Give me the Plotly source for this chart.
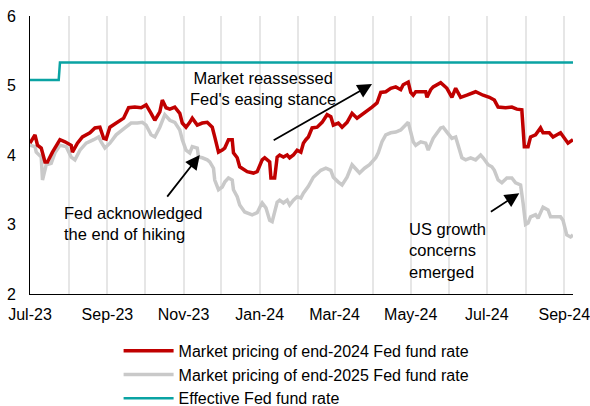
import plotly.graph_objects as go

# ---- data ----
red_dates = [
    "2023-07-01", "2023-07-05", "2023-07-07", "2023-07-10", "2023-07-13", "2023-07-15", "2023-07-19",
    "2023-07-25", "2023-07-29", "2023-08-03", "2023-08-04", "2023-08-08", "2023-08-12", "2023-08-18",
    "2023-08-22", "2023-08-26", "2023-08-29", "2023-08-31", "2023-09-03", "2023-09-08", "2023-09-14",
    "2023-09-18", "2023-09-23", "2023-09-28", "2023-10-02", "2023-10-06", "2023-10-09", "2023-10-13",
    "2023-10-15", "2023-10-18", "2023-10-21", "2023-10-25", "2023-10-29", "2023-10-31", "2023-11-03",
    "2023-11-06", "2023-11-08", "2023-11-12", "2023-11-16", "2023-11-20", "2023-11-24", "2023-11-26",
    "2023-11-29", "2023-12-02", "2023-12-04", "2023-12-07", "2023-12-10", "2023-12-11", "2023-12-14",
    "2023-12-16", "2023-12-22", "2023-12-27", "2023-12-30", "2024-01-03", "2024-01-05", "2024-01-09",
    "2024-01-10", "2024-01-13", "2024-01-15", "2024-01-17", "2024-01-20", "2024-01-23", "2024-01-25",
    "2024-01-28", "2024-01-31", "2024-02-03", "2024-02-05", "2024-02-07", "2024-02-09", "2024-02-12",
    "2024-02-16", "2024-02-20", "2024-02-24", "2024-02-27", "2024-02-29", "2024-03-04", "2024-03-07",
    "2024-03-11", "2024-03-15", "2024-03-19", "2024-03-23", "2024-03-26", "2024-03-31", "2024-04-04",
    "2024-04-07", "2024-04-11", "2024-04-15", "2024-04-19", "2024-04-23", "2024-04-25", "2024-04-29",
    "2024-05-01", "2024-05-03", "2024-05-05", "2024-05-09", "2024-05-13", "2024-05-14", "2024-05-17",
    "2024-05-19", "2024-05-25", "2024-05-30", "2024-06-03", "2024-06-06", "2024-06-10", "2024-06-15",
    "2024-06-22", "2024-06-28", "2024-07-03", "2024-07-07", "2024-07-10", "2024-07-16", "2024-07-21",
    "2024-07-25", "2024-07-29", "2024-07-31", "2024-08-03", "2024-08-05", "2024-08-09", "2024-08-13",
    "2024-08-15", "2024-08-20", "2024-08-23", "2024-08-29", "2024-09-02", "2024-09-04", "2024-09-08",
]
red_values = [
    4.17, 4.29, 4.14, 4.10, 3.90, 3.90, 4.04,
    4.22, 4.19, 4.14, 4.04, 4.17, 4.26, 4.32,
    4.39, 4.40, 4.24, 4.23, 4.40, 4.46, 4.53,
    4.68, 4.69, 4.68, 4.72, 4.60, 4.50, 4.62,
    4.79, 4.68, 4.66, 4.69, 4.60, 4.46, 4.40,
    4.47, 4.53, 4.43, 4.46, 4.47, 4.40, 4.26,
    4.04, 4.07, 4.10, 4.22, 4.22, 4.03, 3.96,
    3.83, 3.76, 3.74, 3.76, 3.93, 3.96, 3.90,
    3.67, 3.67, 3.97, 4.00, 3.97, 4.00, 3.96,
    4.00, 4.07, 4.04, 4.17, 4.22, 4.26, 4.39,
    4.40, 4.47, 4.58, 4.55, 4.43, 4.46, 4.40,
    4.47, 4.60, 4.53, 4.58, 4.62, 4.69, 4.75,
    4.90, 4.91, 4.96, 4.98, 4.94, 5.01, 5.05,
    4.90, 4.86, 4.91, 4.91, 4.91, 4.83, 4.94,
    4.98, 5.04, 4.96, 4.83, 4.96, 4.83, 4.86,
    4.91, 4.86, 4.83, 4.79, 4.69, 4.68, 4.69,
    4.66, 4.65, 4.12, 4.12, 4.26, 4.29, 4.39,
    4.32, 4.32, 4.26, 4.32, 4.22, 4.17, 4.22,
]

gray_dates = [
    "2023-07-01", "2023-07-05", "2023-07-06", "2023-07-10", "2023-07-11", "2023-07-14", "2023-07-18",
    "2023-07-21", "2023-07-25", "2023-07-30", "2023-08-03", "2023-08-06", "2023-08-10", "2023-08-15",
    "2023-08-21", "2023-08-25", "2023-08-27", "2023-08-30", "2023-09-03", "2023-09-08", "2023-09-15",
    "2023-09-20", "2023-09-25", "2023-09-29", "2023-10-02", "2023-10-06", "2023-10-09", "2023-10-13",
    "2023-10-17", "2023-10-21", "2023-10-25", "2023-10-29", "2023-10-31", "2023-11-03", "2023-11-06",
    "2023-11-08", "2023-11-12", "2023-11-13", "2023-11-16", "2023-11-20", "2023-11-22", "2023-11-25",
    "2023-11-26", "2023-11-29", "2023-12-02", "2023-12-04", "2023-12-07", "2023-12-10", "2023-12-11",
    "2023-12-14", "2023-12-16", "2023-12-20", "2023-12-26", "2023-12-30", "2024-01-02", "2024-01-03",
    "2024-01-06", "2024-01-09", "2024-01-11", "2024-01-13", "2024-01-15", "2024-01-17", "2024-01-20",
    "2024-01-23", "2024-01-25", "2024-01-28", "2024-01-31", "2024-02-03", "2024-02-05", "2024-02-09",
    "2024-02-13", "2024-02-19", "2024-02-23", "2024-02-27", "2024-02-29", "2024-03-04", "2024-03-07",
    "2024-03-11", "2024-03-15", "2024-03-19", "2024-03-21", "2024-03-25", "2024-03-29", "2024-04-03",
    "2024-04-05", "2024-04-08", "2024-04-11", "2024-04-15", "2024-04-19", "2024-04-23", "2024-04-27",
    "2024-04-29", "2024-05-03", "2024-05-05", "2024-05-09", "2024-05-13", "2024-05-15", "2024-05-19",
    "2024-05-25", "2024-05-27", "2024-05-30", "2024-06-03", "2024-06-06", "2024-06-08", "2024-06-11",
    "2024-06-14", "2024-06-18", "2024-06-22", "2024-06-26", "2024-06-28", "2024-07-02", "2024-07-05",
    "2024-07-07", "2024-07-10", "2024-07-13", "2024-07-17", "2024-07-21", "2024-07-24", "2024-07-28",
    "2024-07-30", "2024-08-01", "2024-08-03", "2024-08-05", "2024-08-09", "2024-08-11", "2024-08-15",
    "2024-08-19", "2024-08-21", "2024-08-25", "2024-08-29", "2024-08-31", "2024-09-03", "2024-09-06",
    "2024-09-08",
]
gray_values = [
    4.14, 4.12, 4.04, 3.97, 3.64, 3.86, 3.88,
    4.03, 4.14, 4.12, 3.97, 3.93, 4.07, 4.17,
    4.22, 4.26, 4.19, 4.10, 4.17, 4.29, 4.39,
    4.46, 4.46, 4.47, 4.43, 4.29, 4.26, 4.40,
    4.58, 4.50, 4.47, 4.36, 4.22, 4.07, 4.03,
    4.12, 4.10, 3.97, 3.96, 3.93, 3.90, 3.81,
    3.64, 3.50, 3.54, 3.61, 3.67, 3.64, 3.50,
    3.40, 3.28, 3.18, 3.14, 3.17, 3.28, 3.31,
    3.24, 3.06, 3.04, 3.18, 3.32, 3.35, 3.31,
    3.35, 3.28, 3.35, 3.40, 3.38, 3.45, 3.55,
    3.68, 3.78, 3.81, 3.78, 3.68, 3.61, 3.57,
    3.68, 3.86, 3.78, 3.74, 3.81, 3.86, 3.96,
    4.03, 4.19, 4.29, 4.32, 4.33, 4.36, 4.43,
    4.47, 4.19, 4.14, 4.19, 4.17, 4.07, 4.24,
    4.39, 4.40, 4.33, 4.24, 4.26, 4.12, 3.96,
    3.93, 3.96, 3.93, 4.00, 3.96, 3.86, 3.83,
    3.78, 3.64, 3.60, 3.67, 3.67, 3.60, 3.57,
    3.31, 3.00, 3.02, 3.11, 3.14, 3.09, 3.25,
    3.21, 3.11, 3.11, 3.11, 3.06, 2.85, 2.82,
    2.85,
]

eff_dates = ["2023-07-01", "2023-07-24", "2023-07-25", "2024-09-08"]
eff_values = [5.08, 5.08, 5.33, 5.33]

series_names = [
    "Market pricing of end-2024 Fed fund rate",
    "Market pricing of end-2025 Fed fund rate",
    "Effective Fed fund rate",
]
y_ticks = [2, 3, 4, 5, 6]

FONT = "Liberation Sans, Arial, sans-serif"

fig = go.Figure()
fig.add_trace(go.Scatter(x=gray_dates, y=gray_values, mode="lines", name=series_names[1],
                         line=dict(color="#C9C9C9", width=3.5), legendrank=2))
fig.add_trace(go.Scatter(x=red_dates, y=red_values, mode="lines", name=series_names[0],
                         line=dict(color="#C00000", width=3.5), legendrank=1))
fig.add_trace(go.Scatter(x=eff_dates, y=eff_values, mode="lines", name=series_names[2],
                         line=dict(color="#0AA3A3", width=2.5), legendrank=3))

# annotations: arrows
arrow_style = dict(showarrow=True, arrowhead=2, arrowsize=1.6, arrowwidth=1.8, arrowcolor="black",
                   xref="x", yref="y", axref="x", ayref="y", text="", standoff=0, startstandoff=0)
fig.add_annotation(x="2024-03-31", y=5.02, ax="2024-01-11", ay=4.20, **arrow_style)
fig.add_annotation(x="2023-11-14", y=4.00, ax="2023-10-18", ay=3.38, **arrow_style)
fig.add_annotation(x="2024-07-27", y=3.45, ax="2024-07-03", ay=3.17, **arrow_style)

txt_font = dict(family=FONT, size=16.5, color="black")
fig.add_annotation(x="2024-01-04", y=4.96, text="Market reassessed<br>Fed's easing stance",
                   showarrow=False, xanchor="center", yanchor="middle", align="center", font=txt_font)
fig.add_annotation(x="2023-07-27", y=3.02, text="Fed acknowledged<br>the end of hiking",
                   showarrow=False, xanchor="left", yanchor="middle", align="left", font=txt_font)
fig.add_annotation(x="2024-04-28", y=2.62, text="US growth<br>concerns<br>emerged",
                   showarrow=False, xanchor="left", yanchor="middle", align="left", font=txt_font)

fig.update_layout(
    width=590, height=406,
    margin=dict(l=30, r=17, t=16, b=112, autoexpand=False),
    paper_bgcolor="white", plot_bgcolor="white",
    font=dict(family=FONT, size=16, color="black"),
    showlegend=True,
    legend=dict(xref="container", yref="container", x=0.201, y=0.178,
                xanchor="left", yanchor="top", orientation="v",
                itemwidth=50, font=dict(family=FONT, size=16, color="black"),
                bgcolor="rgba(0,0,0,0)", tracegroupgap=0),
    xaxis=dict(
        type="date", range=["2023-07-01", "2024-09-08"], automargin=False,
        tick0="2023-07-01", dtick="M2", tickformat="%b-%y", ticklabeloverflow="allow",
        showgrid=True, gridcolor="#E6E6E6", gridwidth=2,
        minor=dict(dtick="M1", showgrid=True, gridcolor="#E6E6E6", gridwidth=2),
        showline=True, linecolor="black", linewidth=1,
        ticks="", ticklabelstandoff=6, zeroline=False,
        tickfont=dict(family=FONT, size=16, color="black"),
    ),
    yaxis=dict(
        range=[2, 6], tickvals=y_ticks, showgrid=False, zeroline=False, automargin=False,
        showline=True, linecolor="black", linewidth=1,
        ticks="", ticklabelstandoff=10,
        tickfont=dict(family=FONT, size=16, color="black"),
    ),
)

fig.write_html("out.html", config={"displayModeBar": False},
               post_script="document.body.style.margin='0';")
